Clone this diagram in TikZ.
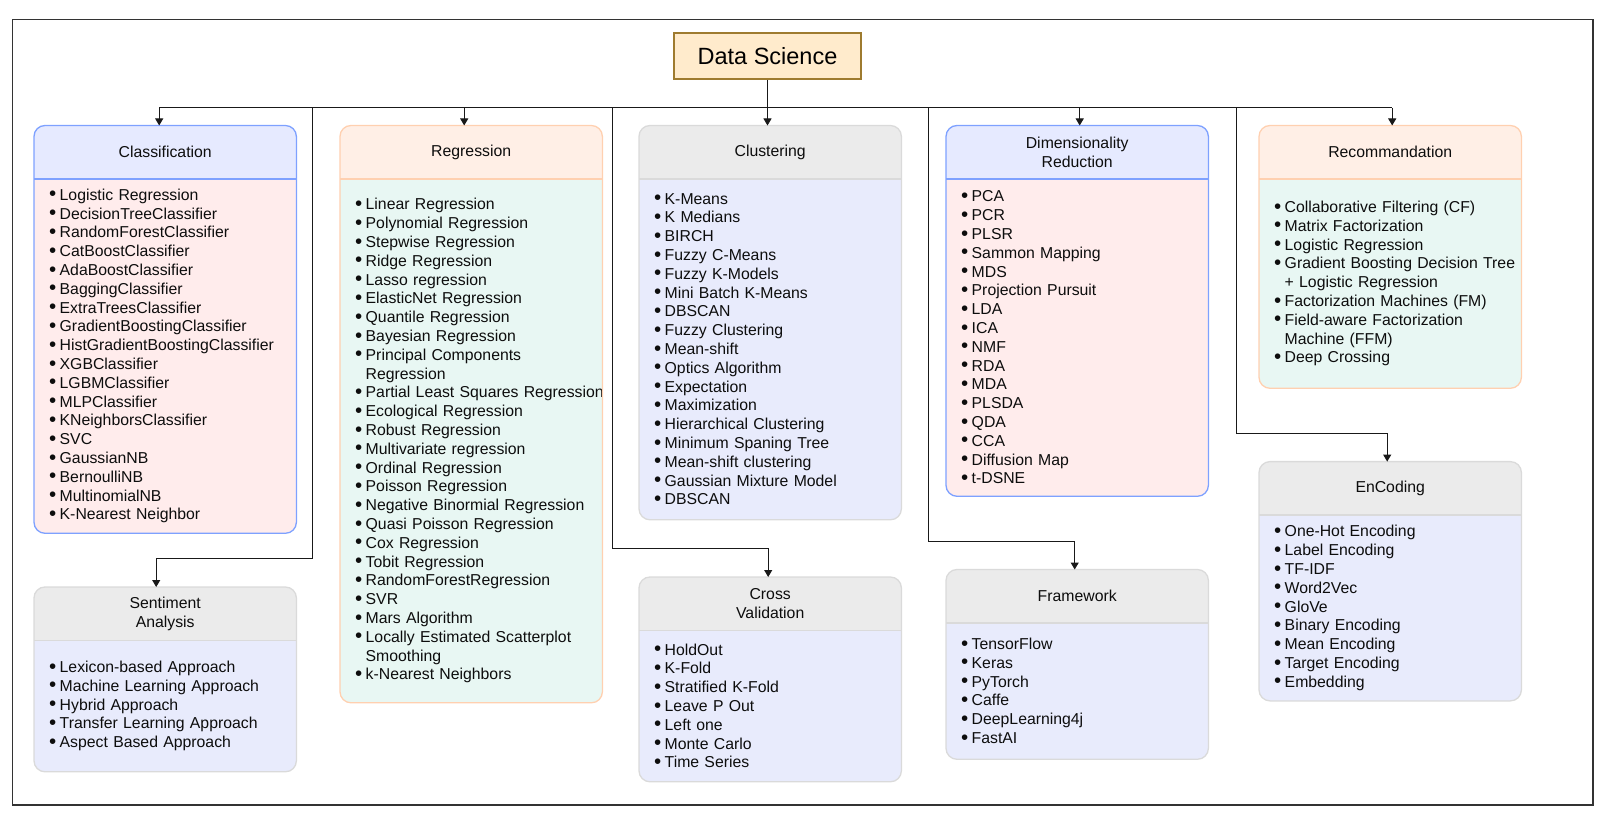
\documentclass[tikz,border=0pt]{standalone}
\usepackage{fontspec}
\setmainfont{Liberation Sans}
\usetikzlibrary{arrows.meta,backgrounds}

\definecolor{blueline}{HTML}{7EA1FF}
\definecolor{bluehead}{HTML}{E6EAFF}
\definecolor{bluebody}{HTML}{FFECEC}
\definecolor{peachline}{HTML}{FFD0B0}
\definecolor{peachhead}{HTML}{FFEFE6}
\definecolor{peachbody}{HTML}{E8F7F3}
\definecolor{grayline}{HTML}{DADADA}
\definecolor{grayhead}{HTML}{EBEBEB}
\definecolor{graybody}{HTML}{E8EBFC}
\definecolor{dsfill}{HTML}{FFEBCC}
\definecolor{dsline}{HTML}{9E7B2F}

\newcommand{\itemfont}{\fontsize{15.8pt}{18.8pt}\selectfont}
\newcommand{\itm}[1]{\hspace*{15pt}\makebox[10.5pt][l]{\raisebox{-0.6pt}{\scalebox{1.3}{\textbullet}}}\mbox{#1}}
\newcommand{\itc}[1]{\hspace*{25.5pt}\mbox{#1}}

\newcommand{\catbox}[7]{%
  \node[head] (#1) at (#2,#3) {#6};
  \node[body, minimum height=#4] (#1Body) at (#1.south west) {#7};
  \begin{scope}[on background layer]
    \begin{scope}
      \clip[rounded corners=11pt] (#1.north west) rectangle (#1Body.south east);
      \fill[#5head] (#1.north west) rectangle (#1.south east);
      \fill[#5body] (#1Body.north west) rectangle (#1Body.south east);
    \end{scope}
  \end{scope}
  \draw[#5line, line width=1.3pt, rounded corners=11pt] (#1.north west) rectangle (#1Body.south east);
  \draw[#5line, line width=1.3pt] (#1.south west) -- (#1.south east);
}

\begin{document}
\begin{tikzpicture}[x=1pt, y=-1pt,
    head/.style={anchor=north west, minimum width=262pt, minimum height=53pt,
      inner sep=0pt, align=center, text=black!95,
      font=\fontsize{15.8pt}{19pt}\selectfont},
    body/.style={anchor=north west, text width=262pt, inner xsep=0pt,
      inner ysep=0pt, align=left, text=black!95, font=\itemfont},
    dsbox/.style={draw=dsline, fill=dsfill, line width=2pt, minimum width=187pt,
      minimum height=46pt, font=\fontsize{23.5pt}{28pt}\selectfont},
    wire/.style={black!90, line width=1pt},
    conn/.style={wire, -{Triangle[length=7pt,width=8pt]}}]
  \useasboundingbox (0,0) rectangle (1612,818);
  \draw[black!80, line width=1.3pt] (12.3,19.5) rectangle (1593,805);

  \node[dsbox] (ds) at (767.5,56) {Data Science};

  \catbox{cls}{34}{125.5}{354pt}{blue}{Classification}{%
    \itm{Logistic Regression}\\ \itm{DecisionTreeClassifier}\\
    \itm{RandomForestClassifier}\\ \itm{CatBoostClassifier}\\
    \itm{AdaBoostClassifier}\\ \itm{BaggingClassifier}\\
    \itm{ExtraTreesClassifier}\\ \itm{GradientBoostingClassifier}\\
    \itm{HistGradientBoostingClassifier}\\ \itm{XGBClassifier}\\
    \itm{LGBMClassifier}\\ \itm{MLPClassifier}\\
    \itm{KNeighborsClassifier}\\ \itm{SVC}\\ \itm{GaussianNB}\\
    \itm{BernoulliNB}\\ \itm{MultinomialNB}\\ \itm{K-Nearest Neighbor}}

  \catbox{reg}{340}{125.5}{523.5pt}{peach}{Regression}{%
    \itm{Linear Regression}\\ \itm{Polynomial Regression}\\
    \itm{Stepwise Regression}\\ \itm{Ridge Regression}\\
    \itm{Lasso regression}\\ \itm{ElasticNet Regression}\\
    \itm{Quantile Regression}\\ \itm{Bayesian Regression}\\
    \itm{Principal Components}\\ \itc{Regression}\\
    \itm{Partial Least Squares Regression}\\ \itm{Ecological Regression}\\
    \itm{Robust Regression}\\ \itm{Multivariate regression}\\
    \itm{Ordinal Regression}\\ \itm{Poisson Regression}\\
    \itm{Negative Binormial Regression}\\ \itm{Quasi Poisson Regression}\\
    \itm{Cox Regression}\\ \itm{Tobit Regression}\\
    \itm{RandomForestRegression}\\ \itm{SVR}\\ \itm{Mars Algorithm}\\
    \itm{Locally Estimated Scatterplot}\\ \itc{Smoothing}\\
    \itm{k-Nearest Neighbors}}

  \catbox{clu}{639}{125.5}{340.5pt}{gray}{Clustering}{%
    \itm{K-Means}\\ \itm{K Medians}\\ \itm{BIRCH}\\ \itm{Fuzzy C-Means}\\
    \itm{Fuzzy K-Models}\\ \itm{Mini Batch K-Means}\\ \itm{DBSCAN}\\
    \itm{Fuzzy Clustering}\\ \itm{Mean-shift}\\ \itm{Optics Algorithm}\\
    \itm{Expectation}\\ \itm{Maximization}\\ \itm{Hierarchical Clustering}\\
    \itm{Minimum Spaning Tree}\\ \itm{Mean-shift clustering}\\
    \itm{Gaussian Mixture Model}\\ \itm{DBSCAN}}

  \catbox{dim}{946}{125.5}{317pt}{blue}{Dimensionality\\Reduction}{%
    \itm{PCA}\\ \itm{PCR}\\ \itm{PLSR}\\ \itm{Sammon Mapping}\\ \itm{MDS}\\
    \itm{Projection Pursuit}\\ \itm{LDA}\\ \itm{ICA}\\ \itm{NMF}\\
    \itm{RDA}\\ \itm{MDA}\\ \itm{PLSDA}\\ \itm{QDA}\\ \itm{CCA}\\
    \itm{Diffusion Map}\\ \itm{t-DSNE}}

  \catbox{rec}{1259}{125.5}{209pt}{peach}{Recommandation}{%
    \itm{Collaborative Filtering (CF)}\\ \itm{Matrix Factorization}\\
    \itm{Logistic Regression}\\ \itm{Gradient Boosting Decision Tree}\\
    \itc{+ Logistic Regression}\\ \itm{Factorization Machines (FM)}\\
    \itm{Field-aware Factorization}\\ \itc{Machine (FFM)}\\
    \itm{Deep Crossing}}

  \catbox{sen}{34}{587}{131pt}{gray}{Sentiment\\Analysis}{%
    \itm{Lexicon-based Approach}\\ \itm{Machine Learning Approach}\\
    \itm{Hybrid Approach}\\ \itm{Transfer Learning Approach}\\
    \itm{Aspect Based Approach}}

  \catbox{cv}{639}{577}{151pt}{gray}{Cross\\Validation}{%
    \itm{HoldOut}\\ \itm{K-Fold}\\ \itm{Stratified K-Fold}\\
    \itm{Leave P Out}\\ \itm{Left one}\\ \itm{Monte Carlo}\\
    \itm{Time Series}}

  \catbox{fw}{946}{569.5}{136pt}{gray}{Framework}{%
    \itm{TensorFlow}\\ \itm{Keras}\\ \itm{PyTorch}\\ \itm{Caffe}\\
    \itm{DeepLearning4j}\\ \itm{FastAI}}

  \catbox{enc}{1259}{461.6}{185.5pt}{gray}{EnCoding}{%
    \itm{One-Hot Encoding}\\ \itm{Label Encoding}\\ \itm{TF-IDF}\\
    \itm{Word2Vec}\\ \itm{GloVe}\\ \itm{Binary Encoding}\\
    \itm{Mean Encoding}\\ \itm{Target Encoding}\\ \itm{Embedding}}

  \coordinate (hub) at ([yshift=-28pt]ds.south);
  \path (hub) ++(-455,0) coordinate (tapSen);
  \path (hub) ++(-155.5,0) coordinate (tapCv);
  \path (hub) ++(160.5,0) coordinate (tapFw);
  \path (hub) ++(468.5,0) coordinate (tapEnc);

  \draw[wire] (ds.south) -- (hub);
  \draw[wire] ([xshift=-6pt]cls.north |- hub) -- ([xshift=2pt]rec.north |- hub);
  \draw[conn] ([xshift=-6pt]cls.north |- hub) -- ([xshift=-6pt]cls.north);
  \draw[conn] ([xshift=-7pt]reg.north |- hub) -- ([xshift=-7pt]reg.north);
  \draw[conn] (hub) -- (hub |- clu.north);
  \draw[conn] ([xshift=2.5pt]dim.north |- hub) -- ([xshift=2.5pt]dim.north);
  \draw[conn] ([xshift=2pt]rec.north |- hub) -- ([xshift=2pt]rec.north);

  \draw[conn] (tapSen) |- ([xshift=-9pt,yshift=29pt]sen.north) -- ([xshift=-9pt]sen.north);
  \draw[conn] (tapCv) |- ([xshift=-2pt,yshift=29pt]cv.north) -- ([xshift=-2pt]cv.north);
  \draw[conn] (tapFw) |- ([xshift=-2.5pt,yshift=28.5pt]fw.north) -- ([xshift=-2.5pt]fw.north);
  \draw[conn] (tapEnc) |- ([xshift=-3pt,yshift=28.5pt]enc.north) -- ([xshift=-3pt]enc.north);
\end{tikzpicture}
\end{document}
